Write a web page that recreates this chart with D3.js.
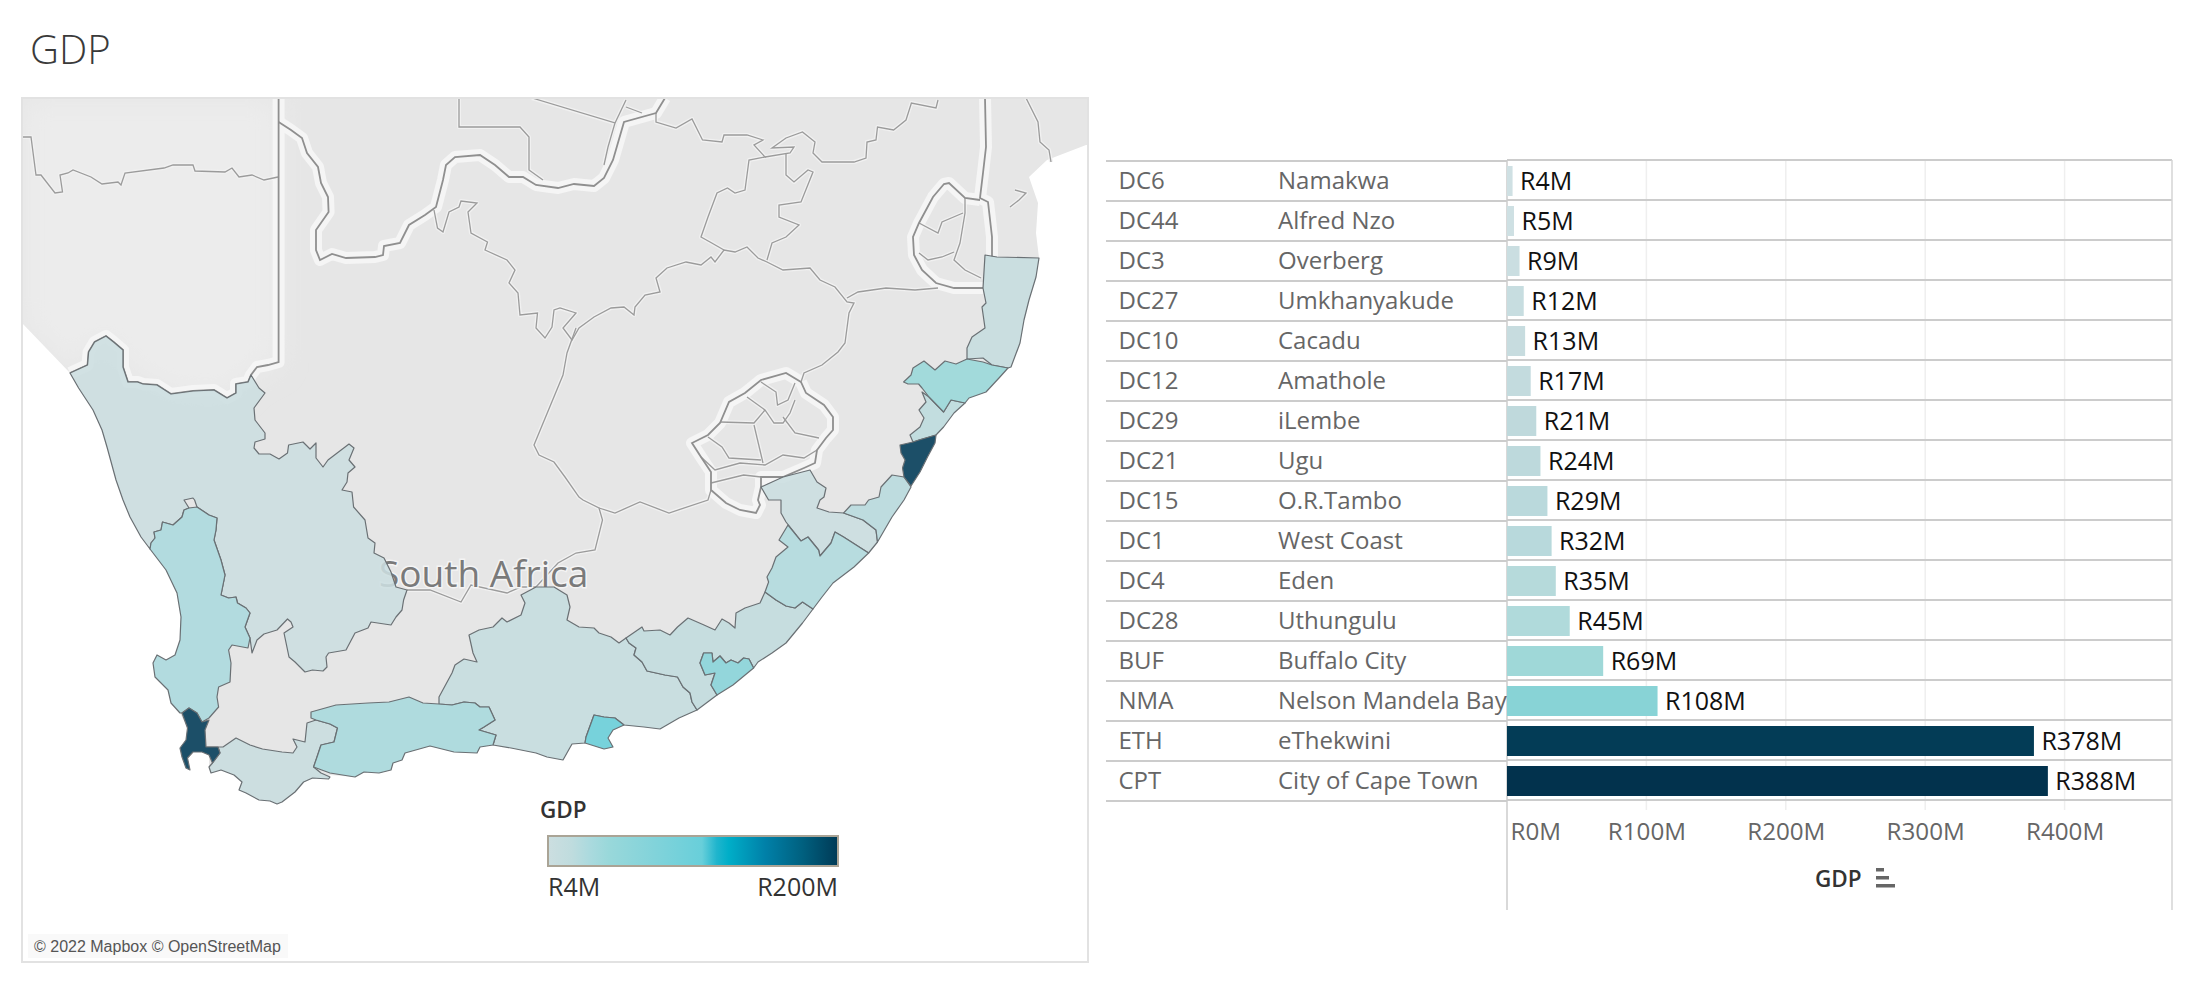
<!DOCTYPE html>
<html><head><meta charset="utf-8">
<script src="https://cdn.jsdelivr.net/npm/d3@7/dist/d3.min.js"></script>
<style>html,body{margin:0;background:#fff}svg{display:block}text{font-family:"Open Sans","Noto Sans",sans-serif}</style>
</head><body><svg id="c" width="2194" height="984"></svg>
<script>
// ---- table data
const codes=["DC6","DC44","DC3","DC27","DC10","DC12","DC29","DC21","DC15","DC1","DC4","DC28","BUF","NMA","ETH","CPT"];
const names=["Namakwa","Alfred Nzo","Overberg","Umkhanyakude","Cacadu","Amathole","iLembe","Ugu","O.R.Tambo","West Coast","Eden","Uthungulu","Buffalo City","Nelson Mandela Bay","eThekwini","City of Cape Town"];
const gdpValues=[4,5,9,12,13,17,21,24,29,32,35,45,69,108,378,388];
const gdpTicks=[0,100,200,300,400];
const legendLabels=["R4M","R200M"];
const legendDomain=[4,20,32,45,69,108,118,126,151,176,200];
const legendColors=["#ccdee0","#bfdcde","#abdade","#99d8da","#87d4da","#68cfda","#20b5cd","#00aec8","#0080a8","#00607f","#003a56"];
const barDomain=[4,21,45,69,108,378,388];
const barColors=["#cfe0e3","#bfd9dc","#b0dadb","#9fd8d8","#88d3d6","#033c56","#02324d"];

// ---- map outlines, hand-traced in the map's grid units
const ringDC6=[[70,373],[87.5,365],[88.6,352],[94.6,342],[106,336],[113.6,342],[123,350],[123,367],[128,382],[137.5,382],[143,384],[157,385],[171,394],[193,391],[214,390],[227,398],[236,393],[236,384],[248,382],[251,375],[259,388],[265,393],[254,408],[255,420],[265,433],[265,439],[255,442],[254,448],[259,454],[270,454],[279,459],[287.5,453],[288.6,445],[303,442],[310,449],[316,443],[316,458],[323,467],[328,460],[349,444],[354,448],[349,460],[355,467],[348,473],[347,482],[342,490],[352,492],[353.6,507],[365,520],[368,538],[375,543],[374,553],[384,558],[391,572],[396,587],[407,590],[403.6,600],[402,610],[396,617],[391,625],[371,622],[368,628],[355,633],[346,650],[328.6,653],[326,657],[327,667],[323,671],[312.5,670],[305,672],[295,662],[289,657],[284,633],[293,627],[291,622],[287.5,619],[277,630],[264,634],[257,640],[252,653],[250,638],[245,627],[250,613],[246,608],[237.5,603],[236,597],[228.6,598],[221,595],[225,575],[221,560],[214,540],[216,530],[217,518],[209,515],[197,507],[194.6,500],[193,498],[184,500],[189,508],[184,510],[182,517],[173,525],[162.5,522],[161,530],[154,532],[155,538],[151,543],[150,549],[141,537],[130,517],[123,500],[116,480],[107,447],[102,430],[93,410],[78.6,388]];
const ringDC1=[[150,549],[151,543],[155,538],[154,532],[161,530],[162.5,522],[173,525],[182,517],[184,510],[189,508],[197,507],[209,515],[217,518],[216,530],[214,540],[221,560],[225,575],[221,595],[228.6,598],[236,597],[237.5,603],[246,608],[250,613],[245,627],[250,638],[248,648],[232,645],[228.6,650],[231,663],[230,682],[218.6,687],[217,697],[218.6,707],[209,718],[202,722],[197,713],[189,708],[182,713],[180,713],[171,703],[168,690],[155,677],[153,663],[157,655],[166,660],[175,655],[180,640],[181,617],[177,593],[166,570]];
const ringCPT=[[182,713],[189,708],[197,713],[202,722],[209,720],[205,730],[206,747],[218,747],[220,753],[212.5,763],[209,755],[202,752],[193,752],[187.5,758],[190,770],[186,768],[182,757],[180,748],[186,740],[187.5,728]];
const ringDC3=[[206,747],[223,747],[236,738],[250,745],[262.5,749],[282,752],[293,753],[297,747],[293,739],[305,742],[307,723],[316,720],[330,724],[337.5,728],[334,742],[321,745],[317,757],[313.6,767],[321,773],[330,777],[328.6,779],[312.5,778],[303.6,782],[295,792],[282,802],[277,804],[270,801],[259,800],[246,793],[239,790],[242,782],[234,775],[221,770],[211,773],[209,767],[212.5,763],[220,753],[218,747]];
const ringDC4=[[311,712],[336,705],[368,703],[389,702],[409,697],[423,703],[439,704],[452,705],[464,702],[475,703],[480,707],[489,707],[495,720],[484,727],[479,730],[496,735],[493,745],[480,747],[477,753],[454,752],[430,746],[405,753],[402,760],[393,763],[391,770],[379,773],[364,772],[355,777],[330,773],[313.6,767],[317,757],[321,745],[334,742],[337.5,728],[330,724],[316,720],[311,718]];
const ringDC10=[[439,704],[439,697],[452,673],[455,665],[464,659],[477,662],[473,653],[469,635],[479,630],[493,627],[502,618],[507,622],[521,615],[525,603],[521,595],[536,587],[554,587],[567,595],[570,607],[567,620],[579,627],[594,628],[599,633],[611,637],[619,643],[626,638],[629,643],[636,648],[634,655],[642,662],[647,671],[665,675],[677.5,677],[683,687],[690,693],[692,702],[697,710],[679,718],[660,729],[644,727],[624,725],[615,718],[604,717],[594,715],[586,737],[585,743],[572,744],[563,760],[547,757],[536,753],[511,748],[493,745],[496,735],[479,730],[484,727],[495,720],[489,707],[480,707],[475,703],[464,702],[452,705]];
const ringNMA=[[594,715],[604,717],[615,718],[624,725],[613,730],[608,738],[613,747],[604,749],[585,743],[586,737]];
const ringDC12=[[626,638],[642,627],[644,631],[660,630],[670,635],[677.5,627],[688,618],[704,625],[715,630],[722,619],[729,623],[735,628],[736,613],[745,608],[760,603],[765,592],[776,600],[786,606],[795,608],[802.5,602],[813,609],[802.5,623],[786,643],[772,653],[758,662],[753.6,668],[749,659],[743.6,658],[738,663],[731,660],[726,663],[720,656],[713,662],[712,653],[703.6,653],[700,663],[705,675],[715,673],[711,685],[717,695],[697,710],[692,702],[690,693],[683,687],[677.5,677],[665,675],[647,671],[642,662],[634,655],[636,648],[629,643]];
const ringBUF=[[712,653],[703.6,653],[700,663],[705,675],[715,673],[711,685],[717,695],[733,685],[753.6,668],[749,659],[743.6,658],[738,663],[731,660],[726,663],[720,656],[713,662]];
const ringDC15=[[813,609],[802.5,602],[795,608],[786,606],[776,600],[765,592],[768.6,582],[767,577],[772,568],[776,557],[788,547],[779,540],[788,525],[801,541],[808,537],[818.6,550],[820,556],[831,543],[835,532],[843.6,537],[868.6,553],[854,567],[833,583],[822,597]];
const ringDC44=[[786,522],[801,541],[808,537],[818.6,550],[820,556],[831,543],[835,532],[843.6,537],[868.6,553],[877.5,542],[876,530],[863,520],[843.6,513],[829,512],[817,508],[820,500],[824,497],[826,488],[817,482],[810,470],[783,477],[761,487],[768.6,500],[781,500],[781,513]];
const ringDC21=[[892,475],[904,477],[911,487],[904,500],[892,517],[877.5,542],[876,530],[863,520],[843.6,513],[851,505],[865,505],[868.6,500],[879,497],[881,487]];
const ringETH=[[900,445],[913,442],[919,440],[936,435],[935,443],[927.5,457],[920,472],[911,486],[904,477],[902.5,468],[905,460],[901,453]];
const ringDC29=[[936,435],[943.6,427],[954,413],[965,403],[951,400],[943.6,412],[929,397],[922,392],[926,402],[919,410],[924,418],[920,427],[910,435],[913,442],[919,440]];
const ringDC28=[[903.6,382],[911,375],[913,368],[924,361],[935,370],[945,361],[956,364],[967,359],[983,362],[992,365],[1008,368],[999,378],[986,392],[969,398],[965,403],[951,400],[943.6,412],[929,397],[922,388],[918.6,384],[908,384]];
const ringDC27=[[985,255],[997,257],[1039,258],[1036,277],[1029,300],[1024,320],[1020,343],[1011,367],[1008,368],[992,365],[983,358],[967,359],[967,348],[972,337],[985,328],[982,307],[986,303],[983,288]];
const oceanRing=[[22,323],[70,373],[78.6,388],[93,410],[102,430],[107,447],[116,480],[123,500],[130,517],[141,537],[150,549],[166,570],[177,593],[181,617],[180,640],[175,655],[166,660],[157,655],[153,663],[155,677],[168,690],[171,703],[180,713],[187.5,728],[186,740],[180,748],[182,757],[186,768],[190,770],[187.5,758],[193,752],[202,752],[209,755],[209,767],[211,773],[221,770],[234,775],[242,782],[239,790],[246,793],[259,800],[270,801],[277,804],[282,802],[295,792],[303.6,782],[312.5,778],[328.6,779],[330,775],[355,777],[364,772],[379,773],[391,770],[393,763],[402,760],[405,753],[430,746],[454,752],[477,753],[480,747],[493,745],[511,748],[536,753],[547,757],[563,760],[572,744],[585,743],[604,749],[613,747],[608,738],[613,730],[624,725],[644,727],[660,729],[679,718],[697,710],[717,695],[733,685],[753.6,668],[758,662],[772,653],[786,643],[802.5,623],[813,609],[822,597],[833,583],[854,567],[868.6,553],[877.5,542],[892,517],[904,500],[911,486],[920,472],[927.5,457],[935,443],[936,435],[943.6,427],[954,413],[965,403],[969,398],[986,392],[999,378],[1008,368],[1011,367],[1020,343],[1024,320],[1029,300],[1036,277],[1039,258],[1036,233],[1038,203],[1029,177],[1047,160],[1086,145],[1088,145],[1088,962],[22,962]];
const namibiaTint=[[22,98],[278,98],[278,362],[250,375],[227,398],[171,394],[123,367],[106,336],[70,373],[22,323]];
// international borders
const borderOrange=[[70,373],[87.5,365],[88.6,352],[94.6,342],[106,336],[113.6,342],[123,350],[123,367],[128,382],[137.5,382],[143,384],[157,385],[171,394],[193,391],[214,390],[227,398],[236,393],[236,384],[248,382],[251,375],[257,367],[268,365],[278.6,362],[278.6,98]];
const borderBotswana=[[278.6,122],[291,130],[302,138],[307,153],[318,167],[321,183],[328,197],[328.6,212],[316,230],[316,250],[320,260],[332,254],[346,258],[375,257],[383,255],[384,246],[400,243],[409,225],[425,215],[436,207],[443,180],[446,165],[455,157],[480,155],[495,165],[509,177],[523,177],[536,185],[558,188],[574,184],[594,186],[604,178],[613,160],[624,122],[656,113],[665,98]];
const borderMozambique=[[985,98],[986,147],[983,173],[980,198],[988,202],[992,237],[992,257]];
const borderSwazi=[[980,200],[965,198],[949,183],[944,184],[933,197],[919,223],[913,237],[914,255],[922,270],[936,283],[954,288],[983,288]];
const borderLesotho=[[801,382],[786,373],[761,380],[745,393],[729,402],[720,423],[708,435],[692,443],[701,457],[711,472],[711,490],[726,503],[740,510],[756,513],[760,505],[758,500],[761,487],[761,477],[783,477],[804,468],[815,463],[817,450],[826,438],[833,430],[833,417],[824,405],[806,393],[801,382]];
// thin inner borders
const thinNamibia=[[23,137],[31,137],[36,175],[41,175],[55,193],[62.5,192],[60,175],[68,173],[73,170],[91,177],[102,184],[118,182],[121,185],[125,173],[164,168],[173,165],[193,165],[195,171],[225,172],[232,168],[239,177],[252,175],[264,180],[278,177]];
const thinBotsA=[[459,98],[459,127],[520,127],[529,137],[529,170],[543,180]];
const thinBotsB=[[532,98],[615,123],[608,147],[604,165]];
const thinBotsC=[[626,100],[615,123]];
const thinBotsD=[[626,107],[642,113]];
const thinNorthWest=[[434,210],[437.5,228],[443,232],[449,212],[459,207],[461,201],[477,203],[468,212],[471,233],[487.5,242],[485,250],[507,260],[515,270],[509,283],[518,293],[520,315],[537.5,313],[536,328],[545,338],[552,327],[554,310],[560,308],[576,313],[563,328],[572,340],[579,328],[594,317],[611,308],[624,307],[634,315],[635,307],[645,295],[660,292],[656,278],[667,268],[686,262],[701,265],[711,257],[715,262],[724,250],[735,252],[747,247],[758,258],[767,262],[783,270],[810,268],[820,280],[835,287],[847,302],[854,303],[849,313],[845,343],[838,352],[822,365],[804,373],[801,382]];
const thinLimpopoW=[[724,250],[710,242],[701,237],[708,217],[717,193],[727.5,188],[735,193],[745,190],[749,160],[765,157],[754,145],[763,140],[747,135],[724,135],[722,142],[702.5,140],[692,119],[676,128],[656,122],[656,113]];
const thinLimpopoE=[[765,157],[790,153],[794,147],[772,148],[786,138],[802.5,132],[815,142],[813,153],[822,162],[854,162],[866,158],[867,142],[876,140],[877.5,127],[893.6,130],[906,120],[911.4,103],[936,108],[938,100]];
const thinGauteng=[[786,153],[786,175],[794,182],[808,170],[813,172],[801,202],[779,205],[779,217],[799,225],[786,237],[772,243],[767,260]];
const thinKzn=[[847,298],[858,292],[886,288],[915,290],[938,288]];
const thinCapeN=[[576,328],[567,353],[563,375],[534,445],[539,455],[554,462],[565,477],[579,497],[583,500],[599,508],[602.5,520],[595,550],[576,553],[558,563],[536,587],[521,587],[507,593],[471,585],[461,602],[430,590],[407,590]];
const thinFreeS=[[599,508],[615,513],[640,502],[669,513],[708,500],[711,490]];
const thinMozA=[[1026,98],[1038,122],[1040,142],[1049,150],[1051,162]];
const thinMozB=[[1015,190],[1026,193],[1019,200],[1010,207]];
const thinSwaziA=[[965,198],[965,213],[960,243],[954,260],[965,270],[981,278]];
const thinSwaziB=[[919,223],[938,233],[942,222],[963,213]];
const thinSwaziC=[[919,253],[928,260],[942,257],[954,252]];
const thinLesA=[[761,382],[776,392],[777.5,405],[788,400],[795,383]];
const thinLesB=[[747,397],[765,410],[774,423],[783,423],[790,413],[795,400]];
const thinLesC=[[783,417],[795,433],[819,438]];
const thinLesD=[[720,422],[754,423],[765,410]];
const thinLesE=[[754,425],[763,463]];
const thinLesF=[[708,437],[722,447],[729,458],[761,460]];
const thinLesG=[[701,457],[715,470],[740,463],[765,465],[783,455],[804,458],[817,450]];
const thinLesH=[[711,483],[743.6,475],[761,477]];
const thickLines=[borderOrange,borderBotswana,borderMozambique,borderSwazi,borderLesotho];
const thinLines=[thinNamibia,thinBotsA,thinBotsB,thinBotsC,thinBotsD,thinNorthWest,thinLimpopoW,thinLimpopoE,thinGauteng,thinKzn,thinCapeN,thinFreeS,thinMozA,thinMozB,thinSwaziA,thinSwaziB,thinSwaziC,thinLesA,thinLesB,thinLesC,thinLesD,thinLesE,thinLesF,thinLesG,thinLesH];
const regionRings={DC6:ringDC6,DC44:ringDC44,DC3:ringDC3,DC27:ringDC27,DC10:ringDC10,DC12:ringDC12,DC29:ringDC29,DC21:ringDC21,DC15:ringDC15,DC1:ringDC1,DC4:ringDC4,DC28:ringDC28,BUF:ringBUF,NMA:ringNMA,ETH:ringETH,CPT:ringCPT};

// ---- drawing
const svg=d3.select("#c");
svg.append("text").attr("x",30).attr("y",64).attr("font-size",40).attr("fill","#3a3a3a").attr("font-weight",300).text("GDP");

const mapColor=d3.scaleLinear().domain(legendDomain).range(legendColors).clamp(true);
const barColor=d3.scaleLinear().domain(barDomain).range(barColors);
const gdpByCode=new Map(codes.map((c,i)=>[c,gdpValues[i]]));
const proj=d3.geoIdentity();
const path=d3.geoPath(proj);
const poly=r=>({type:"Polygon",coordinates:[r.concat([r[0]])]});
const line=r=>({type:"LineString",coordinates:r});

const defs=svg.append("defs");
defs.append("clipPath").attr("id","panel").append("rect").attr("x",22).attr("y",98).attr("width",1066).attr("height",864);
defs.append("filter").attr("id","soft").attr("x","-20%").attr("y","-20%").attr("width","140%").attr("height","140%").append("feGaussianBlur").attr("stdDeviation",14);
const m=svg.append("g").attr("clip-path","url(#panel)");
m.append("rect").attr("x",22).attr("y",98).attr("width",1066).attr("height",864).attr("fill","#e6e6e6");
m.append("path").attr("d",path(poly(namibiaTint))).attr("fill","#ececec").attr("filter","url(#soft)");
m.append("path").attr("d",path(poly(oceanRing))).attr("fill","#fff");

m.selectAll(".halo2").data(thinLines).join("path").attr("d",d=>path(line(d))).attr("fill","none").attr("stroke","#f1f1f1").attr("stroke-width",4).attr("stroke-linejoin","round");
m.selectAll(".halo1").data(thickLines).join("path").attr("d",d=>path(line(d))).attr("fill","none").attr("stroke","#f5f5f5").attr("stroke-width",12).attr("stroke-linejoin","round");
m.selectAll(".thin").data(thinLines).join("path").attr("d",d=>path(line(d))).attr("fill","none").attr("stroke","#9b9b9b").attr("stroke-width",1.3);
m.selectAll(".thick").data(thickLines).join("path").attr("d",d=>path(line(d))).attr("fill","none").attr("stroke","#8f8f8f").attr("stroke-width",1.8);

const label=m.append("text").attr("x",379).attr("y",587).attr("font-size",37).attr("fill","#7a7a7a").text("South Africa");
label.attr("stroke","#f4f4f4").attr("stroke-width",3).attr("paint-order","stroke");

m.selectAll(".region").data(codes).join("path")
 .attr("d",c=>path(poly(regionRings[c])))
 .attr("fill",c=>mapColor(gdpByCode.get(c))).attr("fill-opacity",.88)
 .attr("stroke","#6a7074").attr("stroke-width",1.2).attr("stroke-linejoin","round");

svg.append("rect").attr("x",22).attr("y",98).attr("width",1066).attr("height",864).attr("fill","none").attr("stroke","#e2e2e2").attr("stroke-width",2);
svg.append("rect").attr("x",28).attr("y",934).attr("width",260).attr("height",24).attr("fill","#f9f9f9");
svg.append("text").attr("x",34).attr("y",952).attr("font-size",16).attr("fill","#555").style("font-family","'Liberation Sans',Arial,sans-serif").text("© 2022 Mapbox © OpenStreetMap");

// legend
const lx=d3.scaleLinear().domain([4,200]).range([548,838]);
const grad=defs.append("linearGradient").attr("id","lg");
grad.selectAll("stop").data(legendDomain).join("stop").attr("offset",d=>(d-4)/196).attr("stop-color",d=>mapColor(d));
svg.append("rect").attr("x",lx(4)).attr("y",836).attr("width",lx(200)-lx(4)).attr("height",30).attr("fill","url(#lg)").attr("stroke","#aaa496").attr("stroke-width",2);
svg.append("text").attr("x",540).attr("y",818).attr("font-size",22.5).attr("font-weight",600).attr("fill","#333").text("GDP");
svg.append("text").attr("x",lx(4)).attr("y",896).attr("font-size",25).attr("fill","#333").text(legendLabels[0]);
svg.append("text").attr("x",lx(200)).attr("y",896).attr("text-anchor","end").attr("font-size",25).attr("fill","#333").text(legendLabels[1]);

// bars
const x=d3.scaleLinear().domain([0,100]).range([1507,1646.4]);
const y=d3.scaleBand().domain(codes).range([161,801]).paddingInner(.25).paddingOuter(.125);
const rowTop=c=>y(c)-y.step()*.125;
const chart=svg.append("g");
chart.selectAll(".grid").data(gdpTicks.slice(1)).join("line").attr("x1",d=>x(d)).attr("x2",d=>x(d)).attr("y1",160).attr("y2",810).attr("stroke","#efefef").attr("stroke-width",1.5);
const seps=d3.range(codes.length+1);
chart.selectAll(".sepL").data(seps).join("line").attr("x1",1106).attr("x2",1507).attr("y1",i=>161+i*y.step()).attr("y2",i=>161+i*y.step()).attr("stroke","#ccc").attr("stroke-width",2);
chart.selectAll(".sepR").data(seps).join("line").attr("x1",1507).attr("x2",2172).attr("y1",i=>160+i*y.step()).attr("y2",i=>160+i*y.step()).attr("stroke","#ccc").attr("stroke-width",2);
chart.append("line").attr("x1",1507).attr("x2",1507).attr("y1",160).attr("y2",910).attr("stroke","#ccc").attr("stroke-width",1.5);
chart.append("line").attr("x1",2172).attr("x2",2172).attr("y1",160).attr("y2",910).attr("stroke","#d4d4d4").attr("stroke-width",1.5);
chart.selectAll(".bar").data(codes).join("rect").attr("x",x(0)).attr("y",c=>y(c)).attr("height",y.bandwidth())
 .attr("width",c=>x(gdpByCode.get(c))-x(0)).attr("fill",c=>barColor(gdpByCode.get(c)));
chart.selectAll(".val").data(codes).join("text").attr("x",c=>x(gdpByCode.get(c))+7.5).attr("y",c=>rowTop(c)+28.5).attr("font-size",25).attr("fill","#111").text(c=>`R${gdpByCode.get(c)}M`);
chart.selectAll(".code").data(codes).join("text").attr("x",1118.5).attr("y",c=>rowTop(c)+28).attr("font-size",24).attr("fill","#666").text(c=>c);
chart.selectAll(".name").data(codes).join("text").attr("x",1278).attr("y",c=>rowTop(c)+28).attr("font-size",24).attr("fill","#666").text((c,i)=>names[i]);

const axis=d3.axisBottom(x).tickValues(gdpTicks).tickSize(0).tickPadding(0).tickFormat(d=>`R${d}M`);
const ag=chart.append("g").attr("transform","translate(0,821)").call(axis);
ag.select(".domain").remove();
ag.selectAll("text").attr("font-size",24.2).attr("fill","#666").attr("y",0).attr("dy","19px").style("font-family",'"Open Sans","Noto Sans",sans-serif');
ag.selectAll(".tick").filter(d=>d===0).select("text").attr("text-anchor","start").attr("x",3);

chart.append("text").attr("x",1815).attr("y",887).attr("font-size",22.5).attr("font-weight",600).attr("fill","#333").text("GDP");
const sortIcon=[8,13,19];
chart.selectAll(".sorti").data(sortIcon).join("rect").attr("x",1876).attr("y",(d,i)=>868+i*8).attr("width",d=>d).attr("height",3.5).attr("fill","#666");
</script></body></html>
